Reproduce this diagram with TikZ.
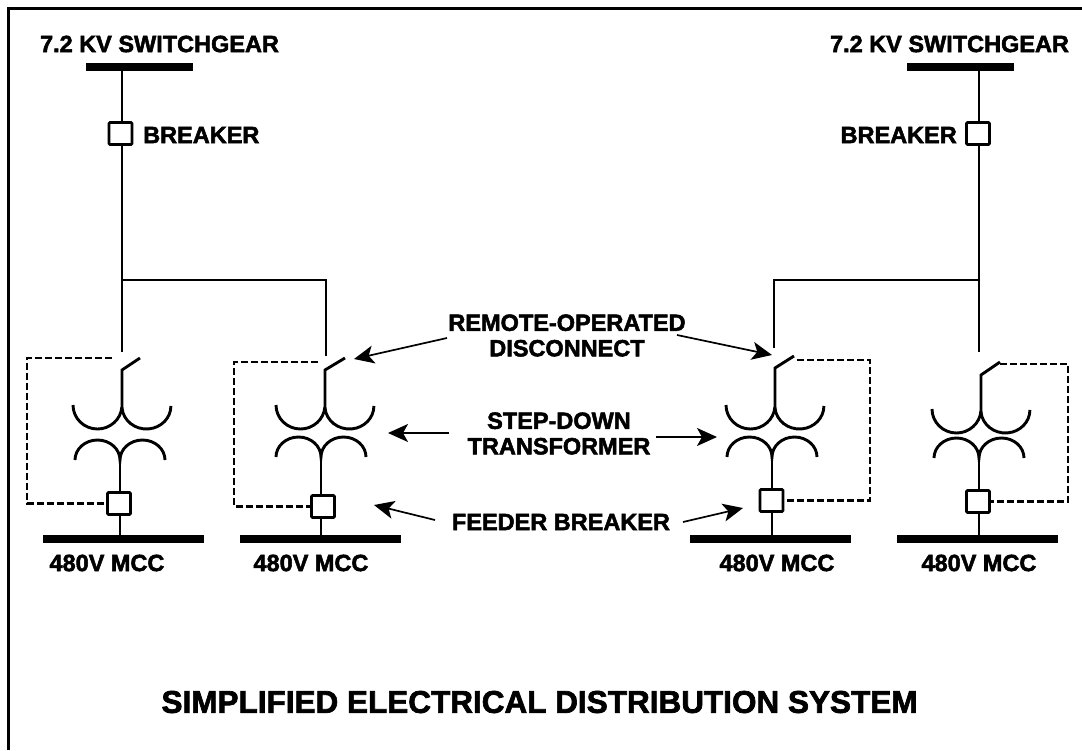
\documentclass[tikz,border=0pt]{standalone}
\usepackage{fontspec}
\usepackage{xcolor}
\setmainfont{Liberation Sans}[BoldFeatures={FakeBold=2.2}]
\usetikzlibrary{arrows.meta}
\begin{document}
\begin{tikzpicture}[x=1pt,y=-1pt,line join=miter,
  busbar/.style={fill=black,inner sep=0,minimum height=8,minimum width=161},
  topbar/.style={busbar,minimum width=107},
  brk/.style={draw,fill=white,line width=2.6,rounded corners=1,inner sep=0,minimum width=23,minimum height=22},
  wire/.style={line width=2.9},
  ctrl/.style={line width=2.8,dash pattern=on 7pt off 3pt},
  pointer/.style={line width=1.7,-{Stealth[length=20,width=18,inset=5]}},
  lbl/.style={font=\fontsize{23.5}{25.5}\selectfont\bfseries,inner sep=0,align=center},
  ttl/.style={font=\fontsize{31.5}{33}\selectfont\bfseries,inner sep=0}]
\useasboundingbox (0,0) rectangle (1082,750);
\fill[white] (0,0) rectangle (1082,750);
\draw[line width=2.8] (8.7,750) -- (8.7,8.7) -- (1082,8.7);
% switchgear at the top
\node[topbar] (gearl) at (139.5,67) {};
\node[topbar] (gearr) at (960.5,67) {};
\node[lbl] (gearltxt) at (159.5,44) {7.2 KV SWITCHGEAR};
\node[lbl] (gearrtxt) at (949.5,44) {7.2 KV SWITCHGEAR};
\coordinate (stuba) at (122,352);
\coordinate (stubb) at (326,356);
\coordinate (stubc) at (774,348);
\coordinate (stubd) at (979,352);
\coordinate (teel) at (122,280);
\coordinate (teer) at (979,280);
\draw[wire] (gearl.south -| stuba) -- (stuba);
\draw[wire] (gearr.south -| stubd) -- (stubd);
\draw[wire] (teel) -| (stubb);
\draw[wire] (teer) -| (stubc);
\node[brk] (brkl) at (120.5,133.5) {};
\node[brk] (brkr) at (978,133.5) {};
\node[lbl,anchor=west] (brkltxt) at (143,135) {BREAKER};
\node[lbl,anchor=east] (brkrtxt) at (957,135) {BREAKER};
% the four feeders
\foreach \nm/\hx/\hy/\tx/\ty/\my/\lx/\ly/\bx in {a/122/370/140/358/408/120/460/123.5,
    b/325/370/345/358/408/321/457/320.5,
    c/775/368/794/356/408/772/457/770.5,
    d/981/375/1000/362/412/979/458/977.5}
{ \coordinate (hinge\nm) at (\hx,\hy);
  \coordinate (tip\nm) at (\tx,\ty);
  \coordinate (mid\nm) at (\hx,\my);
  \coordinate (low\nm) at (\lx,\ly);
  \node[busbar] (bus\nm) at (\bx,539) {};
  \draw[wire] (tip\nm) -- (hinge\nm) -- (mid\nm);
  \draw[wire] (mid\nm) ++(-49,-3) arc[start angle=180,end angle=5,x radius=24.5,y radius=24];
  \draw[wire] (mid\nm) arc[start angle=175,end angle=0,x radius=24.5,y radius=23];
  \draw[wire] (low\nm) ++(-45,0) arc[start angle=180,end angle=360,x radius=22.5,y radius=20]
     arc[start angle=180,end angle=360,x radius=22.5,y radius=20];
  \draw[wire] (low\nm) -- (low\nm |- bus\nm.north);
}
\node[brk] (brka) at (119,503.5) {};
\node[brk] (brkb) at (323,506.5) {};
\node[brk] (brkc) at (771.5,500.5) {};
\node[brk] (brkd) at (978,501.5) {};
% dashed control lines
\coordinate (ctrla) at (112,358);
\coordinate (ctrlb) at (318,362);
\coordinate (ctrlc) at (797,360);
\coordinate (ctrld) at (1000,364);
\draw[ctrl] (ctrla) -| (27,503.5) -- (brka.west);
\draw[ctrl] (ctrlb) -| (234,506.5) -- (brkb.west);
\draw[ctrl] (ctrlc) -| (870,500.5) -- (brkc.east);
\draw[ctrl] (ctrld) -| (1068,501.5) -- (brkd.east);
% labels
\foreach \nm/\x in {a/107,b/311,c/777,d/979}
{ \node[lbl] (mcc\nm) at (\x,563) {480V MCC};}
\node[lbl] (remote) at (567,335.5) {REMOTE-OPERATED\\DISCONNECT};
\node[lbl] (stepdn) at (559,433.5) {STEP-DOWN\\TRANSFORMER};
\node[lbl] (feeder) at (561,522) {FEEDER BREAKER};
\node[ttl] (title) at (539.5,702) {SIMPLIFIED ELECTRICAL DISTRIBUTION SYSTEM};
% pointers
\coordinate (rla) at (447,338);
\coordinate (rlb) at (354,359);
\coordinate (rra) at (677,335);
\coordinate (rrb) at (772,355);
\coordinate (sla) at (449,433);
\coordinate (slb) at (388,433);
\coordinate (sra) at (656,437);
\coordinate (srb) at (717,437);
\coordinate (fla) at (435,520);
\coordinate (flb) at (374,505);
\coordinate (fra) at (683,522);
\coordinate (frb) at (743,508);
\foreach \p in {rl,rr,sl,sr,fl,fr}
{ \draw[pointer] (\p a) -- (\p b);}
\end{tikzpicture}
\end{document}
